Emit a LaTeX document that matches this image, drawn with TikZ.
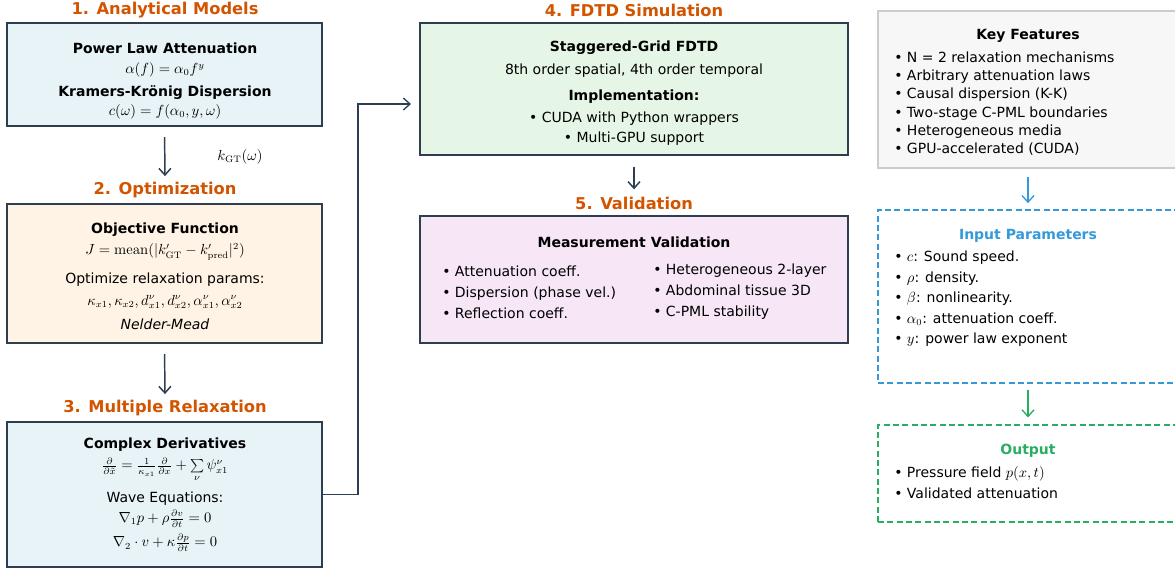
\documentclass[tikz,border=0pt]{standalone}
\usepackage[no-math]{fontspec}
\setmainfont{DejaVu Sans}
\usetikzlibrary{arrows.meta}
\definecolor{navy}{HTML}{2C3E50}
\definecolor{ttl}{HTML}{D35400}
\definecolor{fblue}{HTML}{E8F3F8}
\definecolor{forange}{HTML}{FEF3E4}
\definecolor{fgreen}{HTML}{E6F6E6}
\definecolor{fpurple}{HTML}{F6E6F6}
\definecolor{fgray}{HTML}{F7F7F7}
\definecolor{lgray}{HTML}{CCCCCC}
\definecolor{bblue}{HTML}{3498DB}
\definecolor{bgreen}{HTML}{27AE60}
\tikzset{
  box/.style={draw=navy, line width=1.5pt, inner sep=0pt},
  ttlnode/.style={text=ttl, font=\fontsize{12.2}{14}\selectfont\bfseries},
  hd/.style={font=\fontsize{10.5}{12.6}\selectfont\bfseries, inner sep=0.5pt},
  bd/.style={font=\fontsize{10.5}{12.6}\selectfont, inner sep=0pt},
  arr/.style={draw=navy, line width=1.1pt, -{Straight Barb[length=5pt,width=9pt]}},
  lst/.style={align=left, anchor=west, inner sep=0pt},
}
\begin{document}
\begin{tikzpicture}[x=0.75pt,y=-0.75pt]
\useasboundingbox (0,0) rectangle (1175,569);
\clip (0,0) rectangle (1175,569);
% column 1
\node[ttlnode] (t1) at (165,10) {1. Analytical Models};
\node[box, fill=fblue, minimum width=236.25pt, minimum height=77.25pt] (b1) at (164.5,74.5) {};
\node[hd] (b1a) at (165,48) {Power Law Attenuation};
\node[bd] (b1b) at (165,70) {$\alpha(f) = \alpha_0 f^{y}$};
\node[hd] (b1c) at (165,93) {Kramers-Krönig Dispersion};
\node[bd] (b1d) at (165,112) {$c(\omega) = f(\alpha_0, y, \omega)$};
\node[ttlnode] (t2) at (165,190) {2. Optimization};
\node[box, fill=forange, minimum width=236.25pt, minimum height=104.25pt] (b2) at (164.5,273.5) {};
\node[hd] (b2a) at (165,230) {Objective Function};
\node[bd] (b2b) at (165,252) {$J = \mathrm{mean}(|k'_{\mathrm{GT}} - k'_{\mathrm{pred}}|^2)$};
\node[bd] (b2c) at (165,280) {Optimize relaxation params:};
\node[bd] (b2d) at (165,302) {$\kappa_{x1}, \kappa_{x2}, d^{\nu}_{x1}, d^{\nu}_{x2}, \alpha^{\nu}_{x1}, \alpha^{\nu}_{x2}$};
\node[bd, font=\fontsize{10.5}{12.6}\selectfont\itshape] (b2e) at (165,324) {Nelder-Mead};
\node[ttlnode] (t3) at (165,408) {3. Multiple Relaxation};
\node[box, fill=fblue, minimum width=236.25pt, minimum height=108.75pt] (b3) at (164.5,494.5) {};
\node[hd] (b3a) at (165,445) {Complex Derivatives};
\node[bd] (b3b) at (165,470) {$\frac{\partial}{\partial\tilde{x}} = \frac{1}{\kappa_{x1}}\frac{\partial}{\partial x} + \sum\limits_{\nu}\psi^{\nu}_{x1}$};
\node[bd] (b3c) at (165,499) {Wave Equations:};
\node[bd] (b3d) at (165,519) {$\nabla_1 p + \rho\frac{\partial v}{\partial t} = 0$};
\node[bd] (b3e) at (165,543) {$\nabla_2 \cdot v + \kappa\frac{\partial p}{\partial t} = 0$};
\draw[arr, shorten <=7.5pt, shorten >=1pt] (b1.south) -- (t2.north);
\node[bd] (kgt) at (240,157) {$k_{\mathrm{GT}}(\omega)$};
\draw[arr, shorten <=7.5pt, shorten >=1pt] (b2.south) -- (t3.north);
% column 2
\node[ttlnode] (t4) at (634,10) {4. FDTD Simulation};
\node[box, fill=fgreen, minimum width=321pt, minimum height=99pt] (b4) at (634,89) {};
\node[hd] (b4a) at (634,48) {Staggered-Grid FDTD};
\node[bd] (b4b) at (634,71) {8th order spatial, 4th order temporal};
\node[hd] (b4c) at (634,97) {Implementation:};
\node[bd] (b4d) at (634,119) {• CUDA with Python wrappers};
\node[bd] (b4e) at (634,139) {• Multi-GPU support};
\draw[arr, line width=1pt] (b3.east) -| (358,104) -- ([xshift=-6pt]b4.west |- {(0,104)});
\node[ttlnode] (t5) at (634,203) {5. Validation};
\draw[arr, shorten <=8pt, shorten >=2pt] (b4.south) -- (t5.north);
\node[box, fill=fpurple, minimum width=321pt, minimum height=95.25pt] (b5) at (634,279.5) {};
\node[hd] (b5a) at (634,242) {Measurement Validation};
\node[lst, font=\fontsize{10.5}{15.75}\selectfont] (b5l) at (442,292) {• Attenuation coeff.\\• Dispersion (phase vel.)\\• Reflection coeff.};
\node[lst, font=\fontsize{10.5}{15.75}\selectfont] (b5r) at (653,292) {• Heterogeneous 2-layer\\• Abdominal tissue 3D\\• C-PML stability};
% column 3
\node[draw=lgray, line width=0.8pt, fill=fgray, minimum width=234pt, minimum height=117.75pt, inner sep=0pt] (kf) at (1034,89.5) {};
\node[hd] (kfa) at (1028,36) {Key Features};
\node[lst, font=\fontsize{10.5}{13.65}\selectfont] (kfl) at (894,103.5) {• N = 2 relaxation mechanisms\\• Arbitrary attenuation laws\\• Causal dispersion (K-K)\\• Two-stage C-PML boundaries\\• Heterogeneous media\\• GPU-accelerated (CUDA)};
\node[draw=bblue, dashed, dash pattern=on 4.5pt off 2.5pt, line width=1.3pt, minimum width=234pt, minimum height=129.75pt, inner sep=0pt] (ip) at (1034,296.5) {};
\node[hd, text=bblue] (ipa) at (1028,236) {Input Parameters};
\node[lst, font=\fontsize{10.5}{15.4}\selectfont] (ipl) at (894,299) {• $c$: Sound speed.\\• $\rho$: density.\\• $\beta$: nonlinearity.\\• $\alpha_0$: attenuation coeff.\\• $y$: power law exponent};
\node[draw=bgreen, dashed, dash pattern=on 4.5pt off 2.5pt, line width=1.3pt, minimum width=234pt, minimum height=72.75pt, inner sep=0pt] (op) at (1034,473.5) {};
\node[hd, text=bgreen] (opa) at (1028,451) {Output};
\node[lst, font=\fontsize{10.5}{15.75}\selectfont] (opl) at (894,482.5) {• Pressure field $p(x,t)$\\• Validated attenuation};
\draw[arr, draw=bblue, line width=1pt, shorten <=6pt, shorten >=4.5pt] (kf.south -| kfa) -- (ip.north -| kfa);
\draw[arr, draw=bgreen, line width=1pt, shorten <=4.5pt, shorten >=5pt] (ip.south -| kfa) -- (op.north -| kfa);
\end{tikzpicture}
\end{document}
